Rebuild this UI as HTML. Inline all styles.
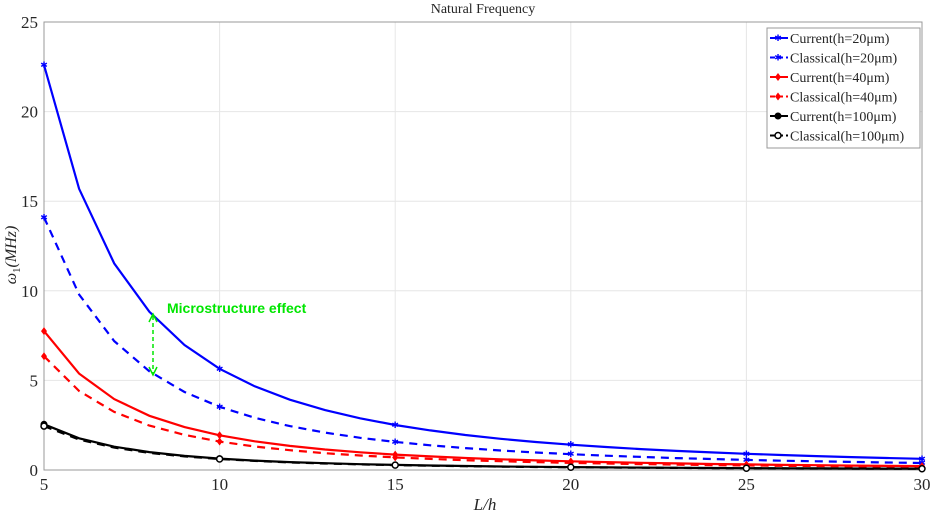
<!DOCTYPE html>
<html><head><meta charset="utf-8"><style>
body{margin:0;background:#fff;}
svg text{font-family:"Liberation Serif",serif;fill:#262626;}
</style></head><body>
<svg id="s" width="931" height="518" xmlns="http://www.w3.org/2000/svg">
<rect width="931" height="518" fill="#fff"/>
<g id="grid" stroke="#e6e6e6" stroke-width="1"></g>
<rect x="44" y="22" width="878" height="448" fill="none" stroke="#999" stroke-width="1"/>
<g id="ticks" font-size="17"></g>
<text x="483" y="13" font-size="14" text-anchor="middle">Natural Frequency</text>
<text x="485" y="510" font-size="17" text-anchor="middle" font-style="italic">L/h</text>
<text transform="translate(16,255) rotate(-90)" font-size="16" text-anchor="middle" font-style="italic">ω<tspan font-size="11" dy="4" font-style="normal">1</tspan><tspan dy="-4">(MHz)</tspan></text>
<g id="series"></g>
<line x1="153" y1="316" x2="153" y2="373" stroke="#00e600" stroke-width="1.5" stroke-dasharray="4,3"/>
<path d="M149,322 L153,314 L157,322" fill="none" stroke="#00e600" stroke-width="1.5"/>
<path d="M149,367 L153,375 L157,367" fill="none" stroke="#00e600" stroke-width="1.5"/>
<text x="167" y="313" font-size="14" font-weight="bold" style="fill:#00e600;font-family:'Liberation Sans',sans-serif">Microstructure effect</text>
<rect x="767" y="28" width="153" height="120" fill="#fff" stroke="#999"/>
<g id="leg" font-size="14"></g>
</svg>
<script>
const X=v=>44+(v-5)*35.12, Y=v=>470-v*17.92;
const g=document.getElementById('grid'),t=document.getElementById('ticks'),ns='http://www.w3.org/2000/svg';
function el(p,tag,a,txt){const e=document.createElementNS(ns,tag);for(const k in a)e.setAttribute(k,a[k]);if(txt!=null)e.textContent=txt;p.appendChild(e);return e;}
for(let v=5;v<=30;v+=5){el(g,'line',{x1:X(v),x2:X(v),y1:22,y2:470});el(t,'text',{x:X(v),y:490,'text-anchor':'middle'},v);}
for(let v=0;v<=25;v+=5){el(g,'line',{x1:44,x2:922,y1:Y(v),y2:Y(v)});el(t,'text',{x:38,y:Y(v)+6,'text-anchor':'end'},v);}
const S=[['#0000ff',22.6,'','star','Current(h=20μm)'],['#0000ff',14.1,'8,6','star','Classical(h=20μm)'],
['#ff0000',7.75,'','dia','Current(h=40μm)'],['#ff0000',6.35,'8,6','dia','Classical(h=40μm)'],
['#000',2.55,'','dot','Current(h=100μm)'],['#000',2.45,'8,6','odot','Classical(h=100μm)']];
const sg=document.getElementById('series'),lg=document.getElementById('leg');
function mark(p,type,x,y,c){
 if(type=='star')el(p,'text',{x:x,y:y+3,'text-anchor':'middle','font-size':9,style:'fill:'+c},'✱');
 else if(type=='dia')el(p,'path',{d:`M${x},${y-4}L${x+3},${y}L${x},${y+4}L${x-3},${y}Z`,fill:c});
 else if(type=='dot')el(p,'circle',{cx:x,cy:y,r:3.5,fill:c});
 else el(p,'circle',{cx:x,cy:y,r:3,fill:'#fff',stroke:c,'stroke-width':1.5});
}
S.forEach((s,i)=>{let d='';for(let v=5;v<=30;v++){d+=(v==5?'M':'L')+X(v).toFixed(1)+','+Y(s[1]*25/v/v).toFixed(1);}
 el(sg,'path',{d:d,fill:'none',stroke:s[0],'stroke-width':2.2,'stroke-dasharray':s[2]});
 for(let v=5;v<=30;v+=5)mark(sg,s[3],X(v),Y(s[1]*25/v/v),s[0]);
 const y=38+i*19.5;el(lg,'line',{x1:770,x2:788,y1:y,y2:y,stroke:s[0],'stroke-width':2,'stroke-dasharray':s[2]?'5,3':''});
 mark(lg,s[3],778,y,s[0]);el(lg,'text',{x:790,y:y+5},s[4]);});
</script>
</body></html>
